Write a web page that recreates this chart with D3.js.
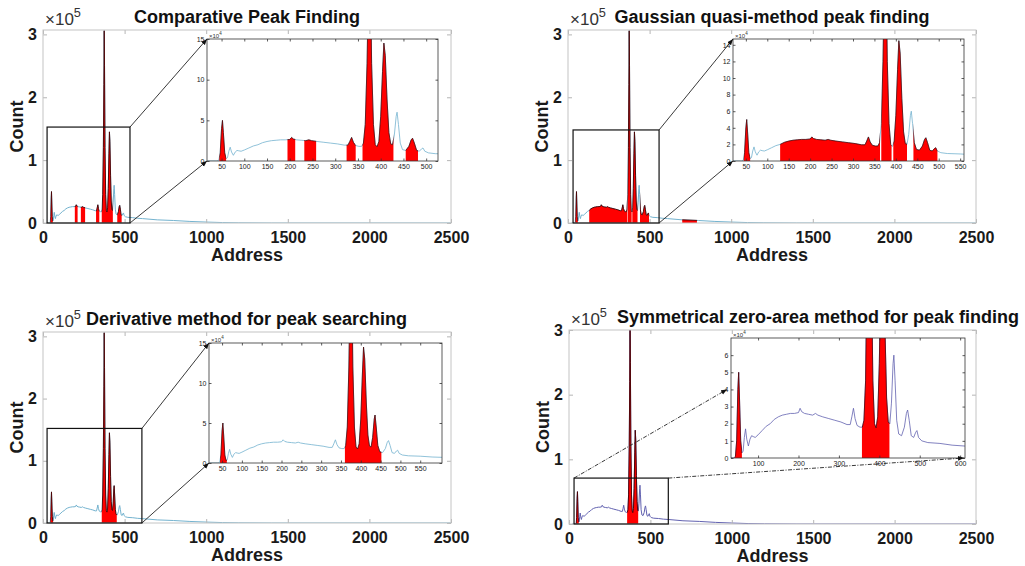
<!DOCTYPE html>
<html>
<head>
<meta charset="utf-8">
<script src="https://cdn.jsdelivr.net/npm/d3@7"></script>
<style>
  body { margin: 0; background: #fff; }
  svg { font-family: "Liberation Sans", Arial, Helvetica, sans-serif; }
</style>
</head>
<body>
<svg id="fig" width="1025" height="566"></svg>
<script>
// spectrum (address, count)
var address = [20, 40, 44, 47, 50, 52, 54, 57, 60, 63, 66, 69, 72, 76, 80, 84, 88, 93,
  100, 110, 120, 130, 140, 150, 160, 170, 180, 190, 200, 204, 208, 215, 225, 235, 242, 248,
  260, 275, 290, 305, 320, 328, 332, 336, 340, 345, 352, 358, 362, 366, 370, 373, 375, 377,
  380, 384, 388, 392, 396, 400, 404, 407, 410, 414, 418, 422, 426, 430, 434, 436, 439, 443,
  448, 455, 462, 467, 470, 474, 479, 485, 490, 493, 497, 505, 520, 550, 580, 610, 700, 800,
  900, 1000, 1100, 1200, 1400, 2500];
var counts = [0, 0, 1000, 10000, 40000, 50000, 35000, 10000, 3000, 4000, 12000, 17000, 11000, 7000, 11000, 13000, 12500, 12000,
  13500, 16000, 18500, 20000, 22500, 24000, 25000, 25500, 26000, 26000, 26500, 29000, 27000, 26000, 25500, 25000, 26000, 25000,
  24000, 23000, 22000, 21000, 19500, 19500, 24000, 29000, 23000, 19000, 18000, 18000, 22000, 45000, 120000, 220000, 306000, 250000,
  120000, 45000, 20000, 17500, 24000, 55000, 110000, 145000, 130000, 75000, 35000, 21000, 20000, 32000, 55000, 60000, 45000, 22000,
  14000, 13000, 18000, 26000, 28000, 22000, 13000, 12000, 15000, 16000, 12000, 10000, 9000, 8500, 7500, 7000, 5000, 4000,
  2500, 1500, 700, 300, 0, 0];

var titles = ["Comparative Peak Finding", "Gaussian quasi-method peak finding",
  "Derivative method for peak searching", "Symmetrical zero-area method for peak finding"];

// address ranges each method marks as peaks
var redComparative = [[45, 60], [195, 212], [232, 258], [325, 345], [360, 428], [455, 482]];
var redGaussian = [[45, 60], [130, 363], [366, 390], [394, 426], [441, 497], [700, 790]];
var redDerivative = [[45, 62], [360, 452]];
var redSymmetric = [[42, 60], [357, 425]];

var mainXTicks = [0, 500, 1000, 1500, 2000, 2500];
var mainYTicks = [0, 100000, 200000, 300000];
var insetXTicks50 = [50, 100, 150, 200, 250, 300, 350, 400, 450, 500];
var insetXTicks55 = [50, 100, 150, 200, 250, 300, 350, 400, 450, 500, 550];
var insetXTicks100 = [100, 200, 300, 400, 500, 600];
var insetYTicks5 = [0, 50000, 100000, 150000];
var insetYTicks2 = [0, 20000, 40000, 60000, 80000, 100000, 120000, 140000];
var insetYTicks1 = [0, 10000, 20000, 30000, 40000, 50000, 60000];

// layout of the four panels (pixels)
var panels = [
  { red: redComparative, col: "#74b3cf", titleX: 247,
    main: { l: 43, r: 451, t: 30, b: 223, ymax: 3.07e5 },
    box: [25, 533, 1.526e5],
    inset: { l: 207, r: 438, t: 39, b: 161, xd: [18, 526], ymax: 15e4, xt: insetXTicks50, yt: insetYTicks5 },
    links: "corner" },
  { red: redGaussian, col: "#74b3cf", titleX: 772,
    main: { l: 568, r: 976, t: 30, b: 223, ymax: 3.07e5 },
    box: [31, 558, 1.48e5],
    inset: { l: 733, r: 964, t: 39, b: 161, xd: [20, 559], ymax: 14.7e4, xt: insetXTicks55, yt: insetYTicks2 },
    links: "corner" },
  { red: redDerivative, col: "#74b3cf", titleX: 246.5,
    main: { l: 43, r: 451, t: 332, b: 523, ymax: 3.07e5 },
    box: [25, 606, 1.52e5],
    inset: { l: 209, r: 442, t: 343, b: 463, xd: [17, 605], ymax: 15e4, xt: insetXTicks55, yt: insetYTicks5 },
    links: "corner" },
  { red: redSymmetric, col: "#6262b0", titleX: 818,
    main: { l: 569, r: 976, t: 330, b: 524, ymax: 3.0e5 },
    box: [31, 610, 0.71e5],
    inset: { l: 731, r: 965, t: 338, b: 458, xd: [33, 612], ymax: 7e4, xt: insetXTicks100, yt: insetYTicks1 },
    links: "dashdot" }
];

var svg = d3.select("#fig");
var defs = svg.append("defs");
defs.append("marker").attr("id", "arrow")
    .attr("viewBox", "0 0 10 10").attr("refX", 10).attr("refY", 5)
    .attr("markerWidth", 6).attr("markerHeight", 6)
    .attr("markerUnits", "userSpaceOnUse").attr("orient", "auto")
  .append("path").attr("d", "M0,1 L10,5 L0,9 Z").attr("fill", "#111");

var clipN = 0;
function clipRect(x, y, w, h) {
  var id = "clip" + (clipN++);
  defs.append("clipPath").attr("id", id)
    .append("rect").attr("x", x).attr("y", y).attr("width", w).attr("height", h);
  return "url(#" + id + ")";
}

var pts = address.map(function(a, i) { return [a, counts[i]]; });

function plotSpectrum(g, x, y, box, red, col, lw) {
  var line = d3.line().x(function(d) { return x(d[0]); }).y(function(d) { return y(d[1]); });
  var area = d3.area().x(function(d) { return x(d[0]); }).y0(y(0)).y1(function(d) { return y(d[1]); });
  var inner = g.append("g").attr("clip-path", clipRect(box.l, box.t, box.r - box.l, box.b - box.t));
  inner.append("path").datum(pts).attr("d", line)
    .attr("fill", "none").attr("stroke", col).attr("stroke-width", lw);
  red.forEach(function(r) {
    var cg = inner.append("g").attr("clip-path", clipRect(x(r[0]), box.t - 2, x(r[1]) - x(r[0]), box.b - box.t + 4));
    cg.append("path").datum(pts).attr("d", area).attr("fill", "#ff0000");
    cg.append("path").datum(pts).attr("d", line)
      .attr("fill", "none").attr("stroke", "#4a0000").attr("stroke-width", lw * 0.9);
  });
}

function axes(g, box, x, y, xt, yt, o) {
  var bx = g.append("g").attr("transform", "translate(0," + box.b + ")")
    .call(d3.axisBottom(x).tickValues(xt).tickSize(-o.tl).tickPadding(o.xpad).tickFormat(o.xf));
  var tx = g.append("g").attr("transform", "translate(0," + box.t + ")")
    .call(d3.axisTop(x).tickValues(xt).tickSize(-o.tl).tickFormat(""));
  var ly = g.append("g").attr("transform", "translate(" + box.l + ",0)")
    .call(d3.axisLeft(y).tickValues(yt).tickSize(-o.tl).tickPadding(o.ypad).tickFormat(o.yf));
  var ry = g.append("g").attr("transform", "translate(" + box.r + ",0)")
    .call(d3.axisRight(y).tickValues(yt).tickSize(-o.tl).tickFormat(""));
  [bx, tx, ly, ry].forEach(function(a) {
    a.select(".domain").remove();
    a.attr("color", o.tick).attr("font-family", null).attr("font-size", null);
    a.selectAll("line").attr("stroke-width", o.fw);
    a.selectAll("text").attr("font-size", o.fs).attr("font-weight", o.bold ? "bold" : "normal").attr("fill", "#1a1a1a");
  });
  g.append("rect").attr("x", box.l).attr("y", box.t)
    .attr("width", box.r - box.l).attr("height", box.b - box.t)
    .attr("fill", "none").attr("stroke", o.frame).attr("stroke-width", o.fw);
}

function times10(g, x, y, exp, fs, col) {
  var t = g.append("text").attr("x", x).attr("y", y).attr("font-size", fs).attr("fill", col);
  t.append("tspan").text("\u00d710");
  t.append("tspan").attr("dy", -fs * 0.45).attr("font-size", fs * 0.75).text(exp);
}

panels.forEach(function(p, k) {
  var g = svg.append("g");
  var m = p.main;

  // main axes
  var x = d3.scaleLinear().domain([0, 2500]).range([m.l, m.r]);
  var y = d3.scaleLinear().domain([0, m.ymax]).range([m.b, m.t]);
  plotSpectrum(g, x, y, m, p.red, p.col, 1);
  axes(g, m, x, y, mainXTicks, mainYTicks, {
    tl: 4, xpad: 8.5, ypad: 6, fs: 16, bold: true, fw: 1,
    tick: "#b5b5b5", frame: "#c4c4c4",
    xf: d3.format("d"), yf: function(v) { return v / 1e5; }
  });

  g.append("text").attr("x", p.titleX).attr("y", m.t - 7)
    .attr("text-anchor", "middle").attr("font-size", 18).attr("font-weight", "bold")
    .attr("fill", "#111").text(titles[k]);
  times10(g, m.l + 2, m.t - 5, "5", 17, "#333");
  g.append("text").attr("x", (m.l + m.r) / 2).attr("y", m.b + 38)
    .attr("text-anchor", "middle").attr("font-size", 18).attr("font-weight", "bold")
    .attr("fill", "#1a1a1a").text("Address");
  g.append("text").attr("transform", "translate(" + (m.l - 20) + "," + ((m.t + m.b) / 2) + ") rotate(-90)")
    .attr("text-anchor", "middle").attr("font-size", 18).attr("font-weight", "bold")
    .attr("fill", "#1a1a1a").text("Count");

  // zoom box on the main axes
  var bl = x(p.box[0]), br = x(p.box[1]), bt = y(p.box[2]), bb = m.b;
  g.append("rect").attr("x", bl).attr("y", bt).attr("width", br - bl).attr("height", bb - bt)
    .attr("fill", "none").attr("stroke", "#111").attr("stroke-width", 1.2);

  // inset
  var s = p.inset;
  var xi = d3.scaleLinear().domain(s.xd).range([s.l, s.r]);
  var yi = d3.scaleLinear().domain([0, s.ymax]).range([s.b, s.t]);
  g.append("rect").attr("x", s.l).attr("y", s.t).attr("width", s.r - s.l).attr("height", s.b - s.t)
    .attr("fill", "#fff");
  plotSpectrum(g, xi, yi, s, p.red, p.col, 0.8);
  axes(g, s, xi, yi, s.xt, s.yt, {
    tl: 2.5, xpad: 3.5, ypad: 2.5, fs: 7, bold: false, fw: 0.8,
    tick: "#333", frame: "#333",
    xf: d3.format("d"), yf: function(v) { return v / 1e4; }
  });
  times10(g, s.l + 2, s.t - 1.5, "4", 6, "#333");

  // connectors from zoom box to inset
  var links;
  if (p.links === "corner") {
    links = [[br, bt, s.l, s.t], [br, bb, s.l, s.b]];
  } else {
    links = [[bl, bt, s.l - 4, yi(4e4)], [br, bt, s.r - 1, s.b]];
  }
  links.forEach(function(L) {
    g.append("line").attr("x1", L[0]).attr("y1", L[1]).attr("x2", L[2]).attr("y2", L[3])
      .attr("stroke", "#222").attr("stroke-width", 0.9)
      .attr("stroke-dasharray", p.links === "corner" ? null : "4,1.5,1,1.5")
      .attr("marker-end", "url(#arrow)");
  });
});
</script>
</body>
</html>
